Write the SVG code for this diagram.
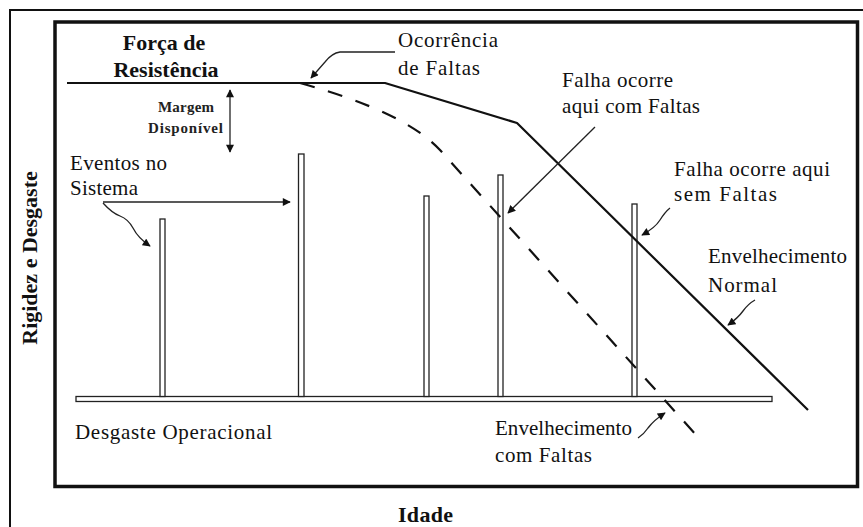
<svg xmlns="http://www.w3.org/2000/svg" width="863" height="527" viewBox="0 0 863 527">
<style>
.t{font-family:"Liberation Serif","Times New Roman",serif;font-size:21px;fill:#111}
.b{font-family:"Liberation Serif","Times New Roman",serif;font-weight:bold;font-size:22px;fill:#111}
.s{font-family:"Liberation Serif","Times New Roman",serif;font-weight:bold;font-size:15px;fill:#222}
.bar{fill:#fff;stroke:#222;stroke-width:1.3}
.ln{fill:none;stroke:#111;stroke-width:2.2;stroke-linejoin:round}
.ar{fill:none;stroke:#222;stroke-width:1.3}
</style>
<defs>
<marker id="ah" viewBox="0 0 10 10" refX="9" refY="5" markerWidth="9" markerHeight="8" markerUnits="userSpaceOnUse" orient="auto-start-reverse">
<path d="M0,0 L10,5 L0,10 z" fill="#111"/>
</marker>
</defs>
<rect width="863" height="527" fill="#fff"/>
<g id="frame">
<path d="M10,527 V10 H863" fill="none" stroke="#111" stroke-width="2"/>
<rect x="55" y="22" width="802.5" height="464.5" fill="none" stroke="#111" stroke-width="3.5"/>
</g>
<g id="bars">
<rect id="base" class="bar" x="76" y="396.5" width="696" height="5"/>
<rect id="bar1" class="bar" x="160" y="219" width="5" height="177.5"/>
<rect id="bar2" class="bar" x="298.5" y="154" width="5.5" height="242.5"/>
<rect id="bar3" class="bar" x="424" y="196" width="5" height="200.5"/>
<rect id="bar4" class="bar" x="498" y="175" width="5" height="221.5"/>
<rect id="bar5" class="bar" x="632" y="204" width="5" height="192.5"/>
</g>
<g id="curves">
<path id="normal" class="ln" d="M67,83 H385 L517,123 L808,410"/>
<path id="faltas" class="ln" d="M300,83 Q405,112 440,150 L697,436" stroke-dasharray="15 14"/>
</g>
<g id="connectors">
<path class="ar" d="M395,52 H340 Q332,53 325,62 L311,78" marker-end="url(#ah)"/>
<path class="ar" d="M595,127 L508,213" marker-end="url(#ah)"/>
<path class="ar" d="M670,208 Q665,212 660,220 Q655,228 642,235" marker-end="url(#ah)"/>
<path class="ar" d="M755,300 Q748,304 743,311 Q738,318 728,325" marker-end="url(#ah)"/>
<path class="ar" d="M638,438 Q644,434 648,428 Q654,420 665,413" marker-end="url(#ah)"/>
<path class="ar" d="M103,202 H290" marker-end="url(#ah)"/>
<path class="ar" d="M103,203 Q112,213 120,216 Q128,219 133,228 Q138,238 150,246" marker-end="url(#ah)" stroke-width="1.1"/>
<path class="ar" d="M230,90 V152" marker-start="url(#ah)" marker-end="url(#ah)" stroke-width="1.5"/>
</g>
<g id="labels">
<g id="forca"><text class="b" x="164" y="50" text-anchor="middle">Força de</text><text class="b" x="166" y="77" text-anchor="middle">Resistência</text></g>
<g id="ocorrencia"><text class="t" x="398" y="47" textLength="100">Ocorrência</text><text class="t" x="398" y="75" textLength="82">de Faltas</text></g>
<g id="falha-com"><text class="t" x="562" y="87" textLength="111">Falha ocorre</text><text class="t" x="562" y="113" textLength="138">aqui com Faltas</text></g>
<g id="falha-sem"><text class="t" x="674" y="176" textLength="156">Falha ocorre aqui</text><text class="t" x="674" y="201" textLength="103">sem Faltas</text></g>
<g id="env-normal"><text class="t" x="708" y="263" textLength="139">Envelhecimento</text><text class="t" x="708" y="292" textLength="69">Normal</text></g>
<g id="env-faltas"><text class="t" x="495" y="435" textLength="137">Envelhecimento</text><text class="t" x="495" y="462" textLength="97">com Faltas</text></g>
<g id="desgaste-op"><text class="t" x="75" y="439" textLength="197">Desgaste Operacional</text></g>
<g id="margem"><text class="s" x="158" y="112" textLength="56">Margem</text><text class="s" x="148" y="133" textLength="75">Disponível</text></g>
<g id="eventos"><text class="t" x="70" y="170" textLength="97">Eventos no</text><text class="t" x="70" y="195" textLength="68">Sistema</text></g>
<g id="idade"><text class="b" x="398" y="522" textLength="55">Idade</text></g>
<g id="eixo-y"><text class="b" transform="translate(37,258) rotate(-90)" x="0" y="0" text-anchor="middle">Rigidez e Desgaste</text></g>
</g>
</svg>
